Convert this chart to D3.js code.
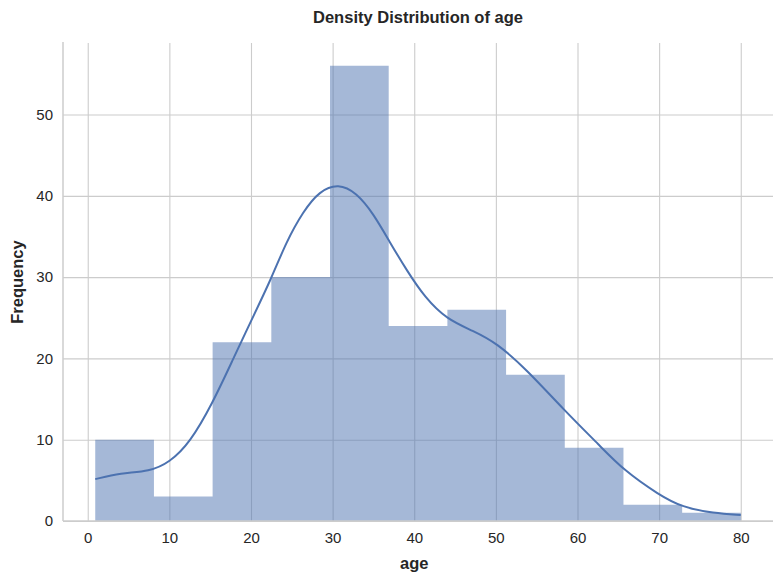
<!DOCTYPE html>
<html>
<head>
<meta charset="utf-8">
<script src="https://cdn.jsdelivr.net/npm/d3@7"></script>
<style>
  body { margin: 0; background: #fff; }
  svg text { font-family: "Liberation Sans", Arial, sans-serif; fill: #262626; }
  .tick line { stroke: #cccccc; }
  .domain { display: none; }
</style>
</head>
<body>
<script>
// histogram bins (age) and counts
const binEdges = [0.92, 8.11, 15.30, 22.49, 29.68, 36.87, 44.06, 51.25, 58.44, 65.63, 72.82, 80.01];
const binCounts = [10, 3, 22, 30, 56, 24, 26, 18, 9, 2, 1];

// kde curve (in count units)
const kdeAge = [0.92, 4, 7.6, 10, 12.5, 15.3, 17.8, 20, 22.4, 24.3, 26.4, 28.4, 30.7, 32.9, 35, 37, 39.1, 41.3, 44, 47.2, 50.1, 53.8, 58.3, 62.8, 65.6, 70, 72.8, 76.7, 80];
const kdeCount = [5.15, 5.9, 6.1, 7.2, 9.6, 14.5, 19.9, 24.6, 29.6, 34.3, 38.1, 40.6, 41.5, 40.4, 37.8, 34.3, 30.8, 27.5, 24.8, 23.4, 21.9, 18.6, 13.7, 9.2, 6.3, 3.2, 1.7, 0.95, 0.74];

const xTicks = [0, 10, 20, 30, 40, 50, 60, 70, 80];
const yTicks = [0, 10, 20, 30, 40, 50];

const W = 782, H = 582;
const margin = { top: 43, right: 9, bottom: 61, left: 63 };

const svg = d3.select("body").append("svg")
    .attr("width", W)
    .attr("height", H);

const x = d3.scaleLinear()
    .domain([-3.03, 83.95])
    .range([margin.left, W - margin.right]);

const y = d3.scaleLinear()
    .domain([0, 58.8])
    .range([H - margin.bottom, margin.top]);

// grid
svg.append("g")
    .attr("transform", "translate(0," + (H - margin.bottom) + ")")
    .call(d3.axisBottom(x).tickValues(xTicks).tickSize(-(H - margin.bottom - margin.top)).tickPadding(11))
    .call(g => g.selectAll("text").attr("font-size", 15))
    .call(g => g.selectAll(".tick line").attr("stroke-width", 1.1));

svg.append("g")
    .attr("transform", "translate(" + margin.left + ",0)")
    .call(d3.axisLeft(y).tickValues(yTicks).tickSize(-(W - margin.right - margin.left)).tickPadding(10))
    .call(g => g.selectAll("text").attr("font-size", 15))
    .call(g => g.selectAll(".tick line").attr("stroke-width", 1.1));

// bars, drawn as one step outline so neighbours have no seams
const steps = binCounts.map((c, i) => [binEdges[i], c]);
steps.push([binEdges[binEdges.length - 1], binCounts[binCounts.length - 1]]);

const area = d3.area()
    .x(d => x(d[0]))
    .y0(y(0))
    .y1(d => y(d[1]))
    .curve(d3.curveStepAfter);

svg.append("path")
    .datum(steps)
    .attr("d", area)
    .attr("fill", "#4c72b0")
    .attr("fill-opacity", 0.5);

// kde line
const line = d3.line()
    .x(d => x(d[0]))
    .y(d => y(d[1]))
    .curve(d3.curveBasis);

svg.append("path")
    .datum(kdeAge.map((a, i) => [a, kdeCount[i]]))
    .attr("d", line)
    .attr("fill", "none")
    .attr("stroke", "#4c72b0")
    .attr("stroke-width", 2);

// spines
svg.append("line")
    .attr("x1", margin.left).attr("x2", margin.left)
    .attr("y1", margin.top - 1).attr("y2", H - margin.bottom)
    .attr("stroke", "#cccccc").attr("stroke-width", 1.5);
svg.append("line")
    .attr("x1", margin.left).attr("x2", W - margin.right)
    .attr("y1", H - margin.bottom).attr("y2", H - margin.bottom)
    .attr("stroke", "#cccccc").attr("stroke-width", 1.5);

// labels
svg.append("text")
    .attr("x", (margin.left + W - margin.right) / 2)
    .attr("y", 23)
    .attr("text-anchor", "middle")
    .attr("font-size", 16.5)
    .attr("font-weight", "bold")
    .text("Density Distribution of age");

svg.append("text")
    .attr("x", x(40))
    .attr("y", 569)
    .attr("text-anchor", "middle")
    .attr("font-size", 16.5)
    .attr("font-weight", "bold")
    .text("age");

svg.append("text")
    .attr("transform", "translate(23," + y(29.4) + ") rotate(-90)")
    .attr("text-anchor", "middle")
    .attr("font-size", 16.5)
    .attr("font-weight", "bold")
    .text("Frequency");
</script>
</body>
</html>
